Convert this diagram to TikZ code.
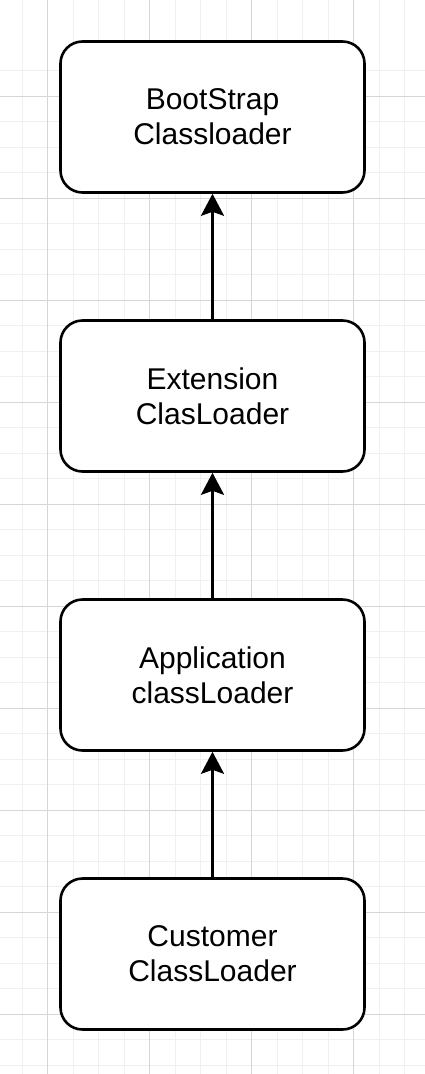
\documentclass[tikz,border=0pt]{standalone}
\usepackage{fontspec}
\setmainfont{Liberation Sans}
\usetikzlibrary{arrows.meta}
\definecolor{minorgrid}{HTML}{F0F0F0}
\definecolor{majorgrid}{HTML}{D6D6D6}
\tikzset{
  minorline/.style={draw=minorgrid, line width=1pt},
  majorline/.style={draw=majorgrid, line width=1pt},
  loaderbox/.style={draw=black, fill=white, line width=2.6pt, rounded corners=22pt,
    minimum width=304pt, minimum height=151pt, align=center,
    font=\fontsize{30}{35}\selectfont, inner sep=0pt},
  uparrow/.style={line width=2.6pt, -{Stealth[length=22pt,width=23pt,inset=4pt]}}
}
\begin{document}
\begin{tikzpicture}[x=1pt,y=-1pt]
\useasboundingbox (0,0) rectangle (425,1074);
\fill[white] (0,0) rectangle (425,1074);
% minor grid
\foreach \i in {-1,...,16} {
  \draw[minorline] ({47.7+25.5*\i},0) -- ({47.7+25.5*\i},1074);
}
\foreach \j in {-1,...,42} {
  \draw[minorline] (0,{96.3+25.5*\j}) -- (425,{96.3+25.5*\j});
}
% major grid
\foreach \i in {0,...,3} {
  \draw[majorline] ({47.7+102*\i},0) -- ({47.7+102*\i},1074);
}
\foreach \j in {-1,...,9} {
  \draw[majorline] (0,{96.3+102*\j}) -- (425,{96.3+102*\j});
}
% boxes
\node[loaderbox] (boot) at (212.5,117) {BootStrap\\Classloader};
\node[loaderbox] (ext) at (212.5,396) {Extension\\ClasLoader};
\node[loaderbox] (app) at (212.5,675) {Application\\classLoader};
\node[loaderbox] (cust) at (212.5,954) {Customer\\ClassLoader};
% arrows
\draw[uparrow] (ext.north) -- (boot.south);
\draw[uparrow] (app.north) -- (ext.south);
\draw[uparrow] (cust.north) -- (app.south);
\end{tikzpicture}
\end{document}
